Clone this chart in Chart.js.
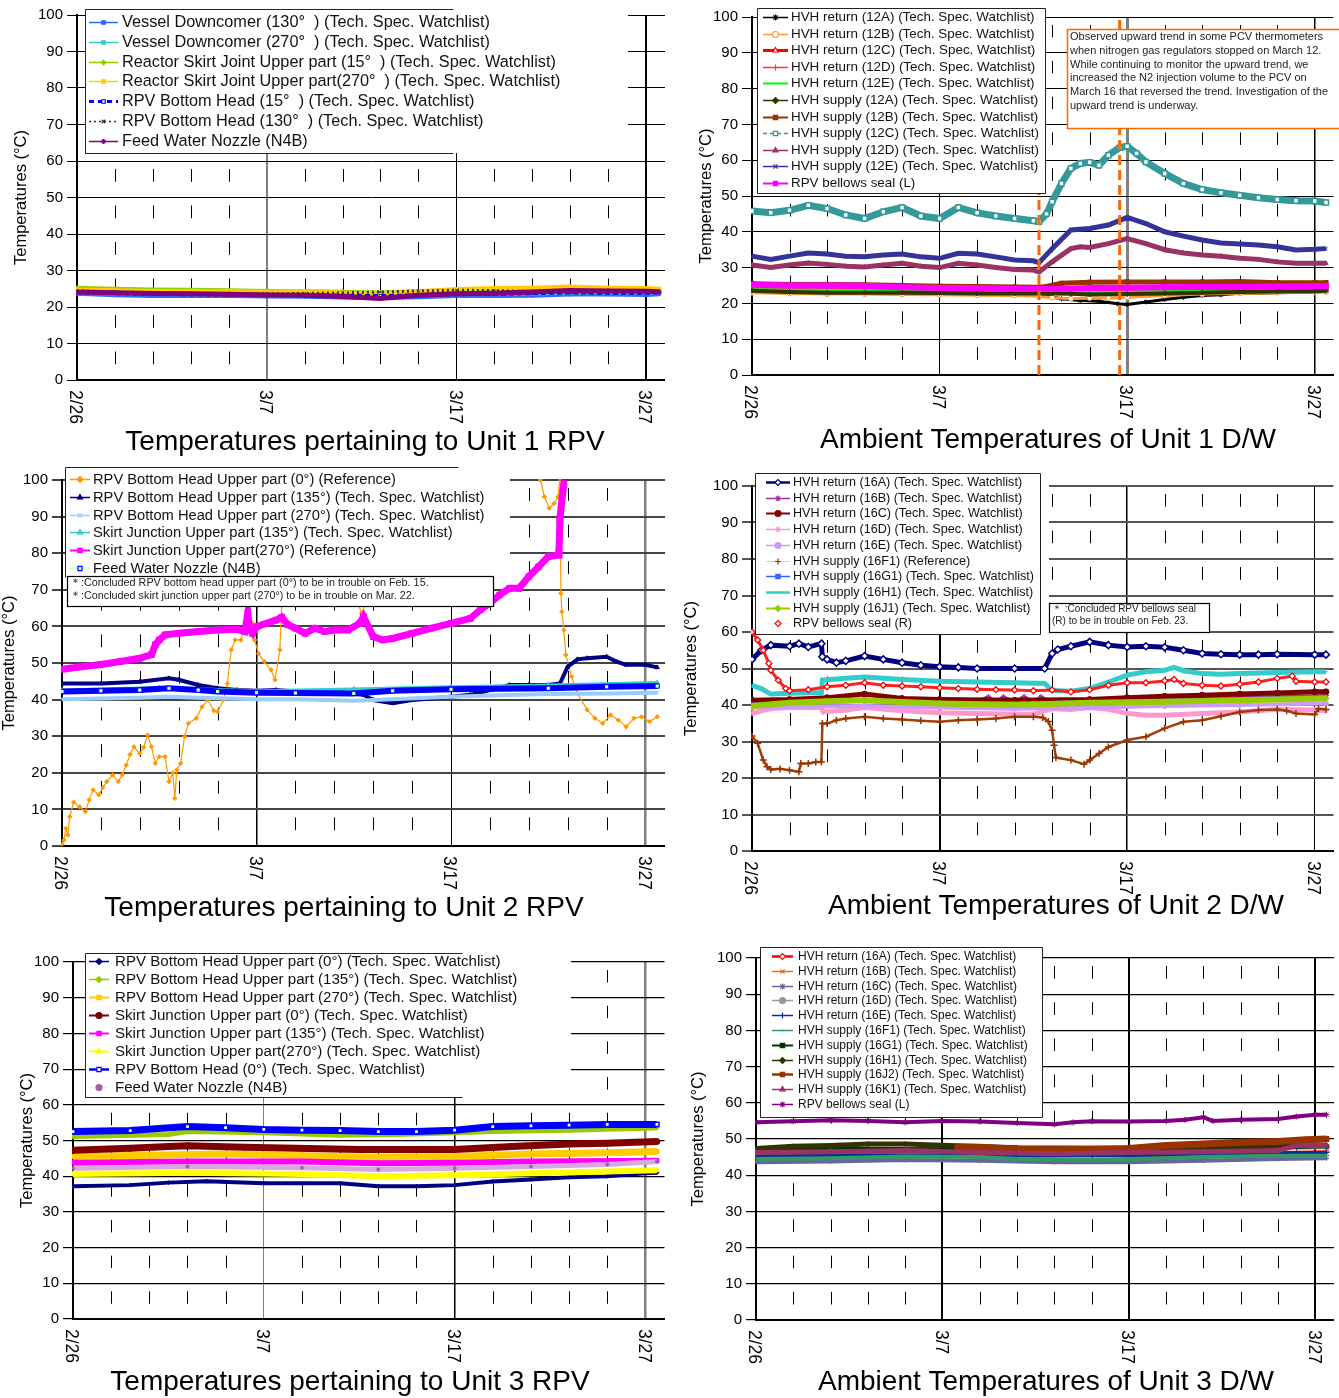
<!DOCTYPE html>
<html>
<head>
<meta charset="utf-8">
<title>PCV / RPV temperatures</title>
<script src="https://cdn.jsdelivr.net/npm/chart.js@4.4.1/dist/chart.umd.min.js"></script>
<style>
  body { margin: 0; background: #fff; width: 1339px; height: 1398px; position: relative; overflow: hidden; }
  canvas { position: absolute; }
</style>
</head>
<body>
<canvas id="p1"></canvas>
<canvas id="p2"></canvas>
<canvas id="p3"></canvas>
<canvas id="p4"></canvas>
<canvas id="p5"></canvas>
<canvas id="p6"></canvas>
<script>
// --- AXES (days since 2/26) ---
const majorDays = [0, 10, 20, 30];
const dateLabels = ['2/26', '3/7', '3/17', '3/27'];
const minorDays = [2, 4, 6, 8, 12, 14, 16, 18, 22, 24, 26, 28];

// --- UNIT 1 RPV ---
const u1RpvDays = [0, 2, 4, 6, 8, 10, 12, 14, 16, 18, 20, 22, 24, 26, 28, 30, 30.7];
const u1RpvLabels = [
  'Vessel Downcomer (130°  ) (Tech. Spec. Watchlist)',
  'Vessel Downcomer (270°  ) (Tech. Spec. Watchlist)',
  'Reactor Skirt Joint Upper part (15°  ) (Tech. Spec. Watchlist)',
  'Reactor Skirt Joint Upper part(270°  ) (Tech. Spec. Watchlist)',
  'RPV Bottom Head (15°  ) (Tech. Spec. Watchlist)',
  'RPV Bottom Head (130°  ) (Tech. Spec. Watchlist)',
  'Feed Water Nozzle (N4B)'
];
const u1Vd130 = [23.6, 23.2, 23.0, 23.0, 23.0, 22.9, 22.8, 22.6, 22.5, 22.7, 23.0, 23.0, 23.1, 23.4, 23.4, 23.3, 23.5];
const u1Vd270 = [24.0, 23.8, 23.6, 23.5, 23.4, 23.3, 23.2, 23.0, 23.0, 23.3, 23.5, 23.6, 23.7, 23.9, 24.0, 24.0, 24.0];
const u1Rsj15 = [25.3, 25.0, 24.8, 24.7, 24.6, 24.4, 24.3, 24.2, 24.0, 24.3, 24.6, 24.7, 24.9, 25.0, 24.9, 24.9, 24.9];
const u1Rsj270 = [24.8, 24.6, 24.4, 24.4, 24.3, 24.2, 24.3, 24.0, 23.8, 24.3, 24.9, 25.2, 25.3, 25.6, 25.3, 25.2, 25.0];
const u1Rbh15 = [24.0, 23.8, 23.6, 23.5, 23.4, 23.3, 23.3, 23.1, 23.0, 23.2, 23.5, 23.6, 23.8, 24.0, 23.9, 23.9, 24.0];
const u1Rbh130 = [24.4, 24.1, 23.9, 23.8, 23.7, 23.6, 23.7, 23.9, 24.1, 24.4, 24.6, 24.5, 24.2, 24.0, 24.0, 24.2, 24.3];
const u1Fwn = [24.1, 23.9, 23.7, 23.6, 23.5, 23.3, 23.2, 22.9, 22.3, 23.2, 23.6, 23.8, 24.1, 24.5, 24.4, 24.3, 24.2];

// --- UNIT 1 D/W ---
const u1DwLabels = [
  'HVH return (12A) (Tech. Spec. Watchlist)', 'HVH return (12B) (Tech. Spec. Watchlist)',
  'HVH return (12C) (Tech. Spec. Watchlist)', 'HVH return (12D) (Tech. Spec. Watchlist)',
  'HVH return (12E) (Tech. Spec. Watchlist)', 'HVH supply (12A) (Tech. Spec. Watchlist)',
  'HVH supply (12B) (Tech. Spec. Watchlist)', 'HVH supply (12C) (Tech. Spec. Watchlist)',
  'HVH supply (12D) (Tech. Spec. Watchlist)', 'HVH supply (12E) (Tech. Spec. Watchlist)',
  'RPV bellows seal (L)'
];
const u1Ret12A = [[0,23.2],[2,23],[4,22.8],[6,22.8],[8,22.7],[10,22.6],[12,22.6],[14,22.5],[15.5,22.3],[16.5,21.3],[17.5,20.8],[18.5,20.6],[19.5,19.9],[20,19.7],[21,20.4],[22,21.1],[23,21.7],[24,22.2],[25,22.4],[26,22.8],[28,23],[30,23.2],[30.6,23.3]];
const u1Ret12B = [[0,23],[2,22.8],[4,22.6],[6,22.6],[8,22.5],[10,22.4],[12,22.3],[14,22.2],[15.3,22],[16,21.6],[17,21.3],[18,21.5],[19,21.5],[20,21.7],[22,22.2],[24,22.6],[26,22.8],[28,23],[30,23.1],[30.6,23.2]];
const u1Ret12C = [[0,24.5],[5,24.3],[10,24.0],[15,23.8],[20,24.0],[25,24.3],[30.6,24.5]];
const u1Ret12D = [[0,24.3],[5,24.1],[10,23.8],[15,23.6],[20,23.8],[25,24.1],[30.6,24.3]];
const u1Ret12E = [[0,23.8],[5,23.6],[10,23.3],[15,23.1],[17,23],[20,23.2],[25,23.5],[30.6,23.8]];
const u1Sup12A = [[0,23.5],[2,23.2],[4,23],[6,23],[8,23],[10,22.9],[12,22.8],[14,22.8],[16,22.8],[17,22.7],[18,22.5],[20,22.6],[22,22.8],[24,23],[26,23.2],[28,23.3],[30,23.4],[30.6,23.5]];
const u1Sup12B = [[0,25.5],[2,25.3],[4,25.3],[6,25.2],[8,25],[10,24.8],[12,24.7],[14,24.6],[15.5,24.5],[16.5,25.6],[18,25.9],[20,26],[22,26],[24,26],[26,26.1],[28,25.8],[30,25.8],[30.6,25.8]];
const u1Sup12C = [[0,45.8],[1,45.3],[2,46],[3,47.4],[4,46.5],[5,44.7],[6,43.7],[7,45.6],[8,46.8],[9,44.4],[10,43.7],[11,46.8],[12,45.3],[13,44.4],[14,43.7],[15,43.1],[15.3,42.8],[15.7,45],[16,48.4],[16.5,53.5],[17,57.7],[17.5,59.1],[18,59.4],[18.5,58.6],[19,61.4],[19.6,63.5],[20,63.9],[20.5,61.9],[21,59.5],[22,56.3],[23,53.5],[24,51.8],[25,50.9],[26,50.2],[27,49.5],[28,49],[29,48.7],[30,48.6],[30.6,48.2]];
const u1Sup12D = [[0,30.7],[1,30],[2,30.7],[3,31.3],[4,30.9],[5,30.4],[6,30.2],[7,30.7],[8,31.2],[9,30.4],[10,30],[11,31.2],[12,30.7],[13,30],[14,29.5],[15,29.3],[15.3,28.8],[16,31.6],[17,35.3],[17.5,35.8],[18,35.6],[19,36.7],[20,38.1],[21,36.7],[22,35],[23,34.1],[24,33.5],[25,33.2],[26,32.6],[27,32.3],[28,31.6],[29,31.2],[30,31.2],[30.6,31.2]];
const u1Sup12E = [[0,33.2],[1,32.3],[2,33.2],[3,34.1],[4,33.8],[5,33.2],[6,33],[7,33.5],[8,33.8],[9,33],[10,32.6],[11,34],[12,33.8],[13,33],[14,32.1],[15,31.9],[15.3,31.4],[16,35.3],[17,40.5],[18,40.9],[19,41.9],[20,44],[21,42.3],[22,40],[23,38.8],[24,37.7],[25,36.9],[26,36.6],[27,36.3],[28,35.8],[29,34.9],[30,35.1],[30.6,35.3]];
const u1BellowsL = [[0,25.2],[2,25.0],[4,25.0],[6,24.9],[8,24.5],[10,24.3],[12,24.3],[14,24.1],[16,24.0],[18,24.3],[20,24.4],[22,24.5],[24,24.6],[26,24.6],[28,24.7],[30,24.8],[30.6,24.8]];
const u1DwEvents = [15.3, 19.6];
const u1DwNote = [
  'Observed upward trend in some PCV thermometers',
  'when nitrogen gas regulators stopped on March 12.',
  'While continuing to monitor the upward trend, we',
  'increased the N2 injection volume to the PCV on',
  'March 16 that reversed the trend. Investigation of the',
  'upward trend is underway.'
];

// --- UNIT 2 RPV ---
const u2RpvLabels = [
  'RPV Bottom Head Upper part (0°) (Reference)',
  'RPV Bottom Head Upper part (135°) (Tech. Spec. Watchlist)',
  'RPV Bottom Head Upper part (270°) (Tech. Spec. Watchlist)',
  'Skirt Junction Upper part (135°) (Tech. Spec. Watchlist)',
  'Skirt Junction Upper part(270°) (Reference)',
  'Feed Water Nozzle (N4B)'
];
const u2Bh0 = [[0,0.5],[0.1,1.6],[0.2,4.8],[0.3,3],[0.4,8],[0.6,12],[0.9,10.7],[1.2,9.4],[1.4,12.6],[1.6,15.3],[1.9,14],[2.1,16],[2.3,17.6],[2.6,19.4],[2.9,17.6],[3.1,19.5],[3.3,22.1],[3.5,25],[3.7,27.1],[4.0,25.3],[4.2,27],[4.4,30.3],[4.6,27.1],[4.8,22.6],[5.0,24.4],[5.3,24.4],[5.5,17.6],[5.7,20],[5.8,13],[5.9,20.8],[6.1,22.6],[6.3,29.9],[6.5,33.5],[6.9,34.9],[7.2,38],[7.5,39.9],[7.8,37],[8.0,36.7],[8.3,39.9],[8.5,44.4],[8.7,53.6],[8.9,56.3],[9.2,56.3],[9.4,60],[9.6,65.4],[9.8,60.8],[9.9,56.3],[10.1,52.6],[10.4,50.4],[10.75,48.1],[10.95,45.4],[11.2,53.6],[11.3,66.3],[11.5,75],[12,85],[13,80],[14,75],[15,70],[15.4,63.5],[15.6,66],[16,75],[17,90],[18,105],[20,110],[22,110],[24,105],[24.6,100],[24.8,95.4],[25.05,92.3],[25.3,93.6],[25.5,95.4],[25.6,100.5],[25.65,69],[25.7,64],[25.8,59],[25.9,52.2],[26.2,46.3],[26.5,41.7],[27.0,37.2],[27.4,34.9],[27.8,33.5],[28.2,35.8],[28.6,34.4],[29.0,32.6],[29.4,34.9],[29.8,35.3],[30.2,34],[30.6,35.3]];
const u2Bh135 = [[0,44.4],[2,44.4],[4,44.9],[5.5,45.8],[6,45.4],[7,44],[8,43.1],[9,42.6],[10,42.4],[11,42.6],[12,42.2],[14,42.2],[15.5,41.3],[16,39.9],[17,39],[18,39.9],[19,40.3],[20,40.8],[21,41.3],[22,42.6],[23,44],[24,44],[25,44],[25.6,44.4],[26,49],[26.5,51],[27,51.3],[28,51.7],[28.5,50.4],[29,49.5],[30,49.5],[30.6,48.8]];
const u2Bh270 = [[0,40.1],[2,40.3],[4,40.5],[5.5,40.8],[7,40.5],[10,40.1],[12,40.1],[15,39.7],[17,40.1],[20,40.8],[22,41.1],[25,41.5],[28,41.7],[30.6,41.9]];
const u2Sj135 = [[0,42.6],[5,43.3],[10,42.4],[15,42.9],[20,43.5],[25,44],[30.6,44.7]];
const u2Sj270 = [[0,48.3],[1,49],[2,49.6],[3,50.4],[4,51.3],[4.6,52.3],[4.8,55],[5,56.3],[5.3,57.7],[6,58.1],[7,58.6],[8,59],[9,59.2],[9.4,58.6],[9.55,63.6],[9.65,59],[9.8,58.1],[10,59.9],[11,61.7],[11.3,62.5],[11.6,60.5],[12,59.5],[12.5,58.1],[13,59.5],[13.5,58.6],[14,59],[14.7,59],[15.3,60.8],[15.5,62.7],[16,57.2],[16.5,56.3],[17,56.7],[18,58.1],[19,59.5],[20,60.8],[21,62.2],[21.5,64.5],[22,66.3],[22.5,68.6],[23,70.4],[23.5,70.4],[24,73.6],[24.5,76.3],[25,79.1],[25.5,79.5],[25.55,80.4],[25.6,89.5],[25.7,94.5],[25.8,99]];
const u2Fwn = [[0,42.2],[2,42.4],[4,42.6],[5.5,43.1],[7,42.6],[8,42.2],[10,41.9],[12,41.8],[15,41.7],[17,42.4],[20,42.8],[25,43.1],[28,43.5],[30.6,43.7]];
const u2RpvNote = [
  '＊:Concluded RPV bottom head upper part (0°) to be in trouble on Feb. 15.',
  '＊:Concluded skirt junction upper part (270°) to be in trouble on Mar. 22.'
];

// --- UNIT 2 D/W ---
const u2DwLabels = [
  'HVH return (16A) (Tech. Spec. Watchlist)', 'HVH return (16B) (Tech. Spec. Watchlist)',
  'HVH return (16C) (Tech. Spec. Watchlist)', 'HVH return (16D) (Tech. Spec. Watchlist)',
  'HVH return (16E) (Tech. Spec. Watchlist)', 'HVH supply (16F1) (Reference)',
  'HVH supply (16G1) (Tech. Spec. Watchlist)', 'HVH supply (16H1) (Tech. Spec. Watchlist)',
  'HVH supply (16J1) (Tech. Spec. Watchlist)', 'RPV bellows seal (R)'
];
const u2Ret16A = [[0,52.5],[0.5,55],[1,56.4],[2,56.1],[2.5,56.8],[3,55.9],[3.7,56.8],[3.75,53.2],[4,52.5],[4.5,51.6],[5,52.1],[6,53.4],[7,52.5],[8,51.6],[9,50.9],[10,50.5],[11,50.3],[12,50],[14,50],[15.6,50],[16,54.1],[16.3,55.2],[17,56.1],[18,57.3],[19,56.4],[20,55.9],[21,56.1],[22,55.8],[23,55],[24,54.1],[25,53.9],[26,53.8],[27,53.8],[28,53.9],[30,53.8],[30.6,53.8]];
const u2Ret16B = [[0,40.6],[4,41],[6,41.5],[8,41],[10,40.8],[12,41.2],[12.6,42.2],[13,41],[13.4,42.2],[14,41],[14.5,42.3],[15,41],[15.4,42.2],[16,41],[18,40.8],[20,41.2],[24,41.8],[28,42.3],[30.6,42.6]];
const u2Ret16C = [[0,41.3],[2,41.5],[4,42],[6,43],[8,41.8],[10,41.5],[14,41.3],[18,41.5],[20,42],[22,42.4],[24,42.7],[26,43],[28,43.3],[30,43.6],[30.6,43.6]];
const u2Ret16D = [[0,37.7],[1,39],[2,39.3],[3.7,39.3],[3.8,38.1],[5,38.6],[6,39.3],[8,38.4],[10,37.9],[12,37.7],[15,37.5],[16,39],[17,38.8],[18,39.3],[19,38.8],[20,37.7],[21,37.2],[22,37.2],[24,37.7],[26,38.1],[28,38.8],[30,38.6],[30.6,38.5]];
const u2Ret16E = [[0,39.3],[3,39.6],[6,39.7],[10,39.3],[14,39],[18,39.3],[22,39.7],[26,40],[30.6,40.4]];
const u2Sup16F1 = [[0,31.5],[0.3,29.5],[0.6,24.9],[0.8,23.1],[1,22.3],[1.5,22.5],[2,22.1],[2.5,21.7],[2.6,24],[3,24],[3.4,24.4],[3.7,24.4],[3.75,34.9],[4,34.9],[4.5,35.8],[5,36.3],[6,36.8],[7,36.3],[8,36],[9,35.7],[10,35.4],[11,35.8],[12,36],[13,36.3],[14,36.8],[15,36.8],[15.5,36.6],[15.8,35.5],[16,33.1],[16.1,29],[16.2,25.6],[17,24.9],[17.7,23.8],[18,24.9],[18.5,26.7],[19,28.5],[20,30.4],[21,31.3],[22,33.6],[23,35.4],[24,35.8],[25,36.9],[26,38.1],[27,38.6],[28,38.8],[28.5,38.4],[29,37.7],[30,37.4],[30.2,39],[30.6,38.8]];
const u2Sup16G1 = [[0,40.2],[5,41],[10,40.6],[15,40.6],[20,41],[25,41.6],[30.6,42.3]];
const u2Sup16H1 = [[0,45.4],[0.5,44.5],[1,43],[2,43.2],[3.7,43.4],[3.75,46.8],[5,47.3],[6,47.7],[7,47.3],[8,47],[10,46.5],[12,46.3],[14,46.1],[15.6,45.9],[16,44],[17,43.8],[18,44.5],[18.5,45.4],[19,46.3],[20,48.2],[21,49.1],[22,49.5],[22.5,50.3],[23,49.4],[24,48.6],[25,48.4],[26,48.6],[27,48.8],[28,48.9],[30,49.1],[30.6,49.1]];
const u2Sup16J1 = [[0,39.7],[2,40.6],[4,41],[6,41.3],[8,40.8],[10,40.4],[14,40],[18,40.6],[22,40.9],[26,41.3],[30.6,41.8]];
const u2BellowsR = [[0,60],[0.3,57.8],[0.6,55],[0.9,51.4],[1,49.5],[1.4,46.8],[1.8,44.5],[2,43.9],[3,44.2],[4,45],[5,45.4],[6,46.1],[7,45.4],[8,45.2],[9,45],[10,44.7],[11,44.5],[12,44.3],[13,44.2],[14,44.1],[15,43.9],[16,44.1],[17,43.6],[18,44.2],[19,45.4],[20,46.1],[21,46.1],[22,46.6],[22.5,47],[23,45.9],[24,45.4],[25,45.2],[26,45.7],[27,46.3],[28,47.3],[28.8,47.9],[29,46.5],[30,46.3],[30.6,46.3]];
const u2DwNote = ['＊ :Concluded RPV bellows seal', '(R) to be in trouble on Feb. 23.'];

// --- UNIT 3 RPV ---
const u3RpvLabels = [
  'RPV Bottom Head Upper part (0°) (Tech. Spec. Watchlist)',
  'RPV Bottom Head Upper part (135°) (Tech. Spec. Watchlist)',
  'RPV Bottom Head Upper part (270°) (Tech. Spec. Watchlist)',
  'Skirt Junction Upper part (0°) (Tech. Spec. Watchlist)',
  'Skirt Junction Upper part (135°) (Tech. Spec. Watchlist)',
  'Skirt Junction Upper part(270°) (Tech. Spec. Watchlist)',
  'RPV Bottom Head (0°) (Tech. Spec. Watchlist)',
  'Feed Water Nozzle (N4B)'
];
const u3Bh0 = [[0,37.2],[3,37.5],[5,38.2],[7,38.6],[10,38],[14,38],[16,37.2],[18,37.2],[20,37.5],[22,38.5],[24,39.1],[26,39.7],[28,40],[30,40.8],[30.6,41]];
const u3Bh135 = [[0,51.1],[2,51.3],[5,51.7],[6,52.5],[10,52.2],[14,51.5],[17,51.7],[20,52.2],[22,52.5],[26,52.9],[30,53.4],[30.6,53.6]];
const u3Bh270 = [[0,45.5],[4,45.9],[8,46.2],[12,45.7],[16,45.3],[20,45.5],[24,46.2],[28,46.6],[30.6,46.9]];
const u3Sj0 = [[0,47.3],[3,47.8],[5,48.3],[6,48.5],[9,48.1],[15,47.5],[20,47.5],[23,48.3],[26,49],[28,49.2],[30.6,49.7]];
const u3Sj135 = [[0,43.8],[6,44.1],[12,44.1],[16,43.6],[20,43.8],[24,44.1],[30.6,44.3]];
const u3Sj270 = [[0,40.6],[6,41],[12,40.6],[16,40],[20,40.3],[24,40.8],[28,41.3],[30.6,41.7]];
const u3Rbh0 = [[0,52.5],[3,52.8],[6,53.9],[8,53.6],[10,53.1],[12,52.9],[14,52.8],[16,52.5],[18,52.5],[20,52.9],[22,53.9],[24,54.1],[26,54.3],[28,54.5],[30.6,54.5]];
const u3Fwn = [[0,42.2],[6,42.7],[12,42.4],[16,41.9],[20,42.2],[24,42.7],[28,43.3],[30.6,44.1]];

// --- UNIT 3 D/W ---
const u3DwLabels = [
  'HVH return (16A) (Tech. Spec. Watchlist)', 'HVH return (16B) (Tech. Spec. Watchlist)',
  'HVH return (16C) (Tech. Spec. Watchlist)', 'HVH return (16D) (Tech. Spec. Watchlist)',
  'HVH return (16E) (Tech. Spec. Watchlist)', 'HVH supply (16F1) (Tech. Spec. Watchlist)',
  'HVH supply (16G1) (Tech. Spec. Watchlist)', 'HVH supply (16H1) (Tech. Spec. Watchlist)',
  'HVH supply (16J2) (Tech. Spec. Watchlist)', 'HVH supply (16K1) (Tech. Spec. Watchlist)',
  'RPV bellows seal (L)'
];
const u3Ret16A = [[0,45.6],[5,45.8],[10,46],[15,45.6],[20,45.6],[25,46],[30.6,46.5]];
const u3Ret16B = [[0,45.4],[5,45.6],[10,45.8],[15,45.4],[20,45.5],[25,45.8],[30.6,46.2]];
const u3Ret16C = [[0,43.6],[4,43.8],[8,44.2],[12,44],[16,43.6],[20,43.6],[24,44],[28,44.5],[30.6,44.7]];
const u3Ret16D = [[0,46.8],[5,47],[10,47.2],[15,47],[20,47.1],[25,47.4],[30.6,47.7]];
const u3Ret16E = [[0,45.3],[5,45.5],[10,45.6],[15,45.3],[20,45.4],[25,45.7],[29,46.3],[30.6,46.3]];
const u3Sup16F1 = [[0,44.5],[4,44.7],[8,45.2],[12,45],[14,44.5],[18,44.3],[20,44.5],[22,44.7],[24,45],[28,45.4],[30.6,45.4]];
const u3Sup16G1 = [[0,47.1],[5,47.3],[10,47.2],[15,46.9],[20,46.8],[25,47.3],[30.6,48]];
const u3Sup16H1 = [[0,47.4],[2,48],[4,48.2],[6,48.6],[8,48.6],[10,48.3],[14,47.6],[20,47.4],[24,47.8],[28,48.2],[30.6,48.3]];
const u3Sup16J2 = [[10.8,47.7],[12,47.7],[14,47.2],[16,47.1],[18,47.2],[20,47.4],[22,48.2],[24,48.6],[26,49.1],[28,49.3],[29.5,49.8],[30.6,50]];
const u3Sup16K1 = [[0,46.3],[4,46.5],[8,46.8],[12,46.3],[16,45.9],[20,46.3],[24,46.5],[28,46.8],[29,48.2],[30.6,48.2]];
const u3BellowsL = [[0,54.6],[2,54.9],[4,55.2],[6,55],[8,54.6],[10,55],[12,54.8],[14,54.4],[16,54.1],[17,54.6],[18,54.9],[20,54.8],[22,55],[23,55.3],[24,56],[24.5,55],[26,55.3],[28,55.5],[29,56.2],[30,56.7],[30.6,56.7]];

// --- HELPERS ---
const FONT = "'Liberation Sans', Arial, sans-serif";
Chart.defaults.font.family = FONT;
Chart.defaults.color = '#000';

const zip = (xs, ys) => xs.map((x, i) => [x, ys[i]]);

const mk = (label, pts, s, i) => ({
  label,
  data: pts.map(([x, y]) => ({ x, y })),
  borderColor: s.line || s.c,
  borderWidth: s.w ?? 3,
  borderDash: s.dash || [],
  pointStyle: s.m || 'rect',
  pointRadius: s.r ?? 2.5,
  pointBorderColor: s.pc || s.c,
  pointBackgroundColor: s.pf || s.pc || s.c,
  pointBorderWidth: s.pbw ?? 1,
  legLine: s.legLine || s.c,
  legW: s.legW ?? 1.5,
  legDash: s.legDash || s.dash || [],
  legMarkFill: s.legFill || s.pf || s.pc || s.c,
  legMarkLine: s.pc || s.c,
  tension: 0,
  order: -i,
  clip: 1
});

const build = (labels, series) => series.map(([pts, s], i) => mk(labels[i], pts, s, i));

// --- DATASETS ---
const u1RpvSets = build(u1RpvLabels, [
  [zip(u1RpvDays, u1Vd130), { c: '#3366FF', m: 'rect', w: 4, r: 1.8 }],
  [zip(u1RpvDays, u1Vd270), { c: '#33CCCC', m: 'rect', w: 4, r: 1.8 }],
  [zip(u1RpvDays, u1Rsj15), { c: '#99CC00', m: 'rectRot', w: 4, r: 2 }],
  [zip(u1RpvDays, u1Rsj270), { c: '#FFCC00', m: 'rect', w: 4, r: 2 }],
  [zip(u1RpvDays, u1Rbh15), { c: '#0000FF', m: 'rect', pf: '#fff', w: 4, r: 2, dash: [5, 3], legW: 3, legDash: [5, 4] }],
  [zip(u1RpvDays, u1Rbh130), { c: '#333333', m: 'crossRot', w: 3, r: 2, dash: [2, 3], legDash: [2, 3] }],
  [zip(u1RpvDays, u1Fwn), { c: '#800080', m: 'star', w: 5, r: 2.5 }]
]);

const u1DwSets = build(u1DwLabels, [
  [u1Ret12A, { c: '#000000', m: 'star', w: 3, r: 2.5 }],
  [u1Ret12B, { c: '#FF9933', m: 'circle', pf: '#fff', w: 3, r: 2.5 }],
  [u1Ret12C, { c: '#FF0000', m: 'triangle', pf: '#fff', w: 3, r: 2.5, legW: 3 }],
  [u1Ret12D, { c: '#FF3333', m: 'cross', w: 2, r: 3 }],
  [u1Ret12E, { c: '#00FF00', m: 'line', w: 3, r: 3, legW: 2 }],
  [u1Sup12A, { c: '#333300', m: 'rectRot', w: 4, r: 2.5 }],
  [u1Sup12B, { c: '#993300', m: 'rect', w: 5, r: 3, legW: 2 }],
  [u1Sup12C, { c: '#339999', m: 'rect', pf: '#fff', w: 7, r: 3.5, pbw: 1.5, legDash: [4, 3] }],
  [u1Sup12D, { c: '#993366', m: 'triangle', w: 5, r: 2.5 }],
  [u1Sup12E, { c: '#333399', m: 'crossRot', w: 5, r: 2.5 }],
  [u1BellowsL, { c: '#FF00FF', m: 'rect', w: 6, r: 3.5, legW: 2 }]
]);
u1DwEvents.forEach(d => u1DwSets.push({
  label: '', noLegend: true,
  data: [{ x: d, y: 0 }, { x: d, y: 100 }],
  borderColor: '#FF6600', borderWidth: 3, borderDash: [10, 5],
  pointRadius: 0, order: -100, clip: 0
}));

const u2RpvSets = build(u2RpvLabels, [
  [u2Bh0, { c: '#FF9900', m: 'rectRot', w: 1.2, r: 2.2 }],
  [u2Bh135, { c: '#000080', m: 'triangle', w: 4, r: 2.5 }],
  [u2Bh270, { c: '#99CCFF', m: 'crossRot', w: 4, r: 2.5 }],
  [u2Sj135, { c: '#33CCCC', m: 'triangle', w: 3, r: 2.5 }],
  [u2Sj270, { c: '#FF00FF', m: 'rect', w: 7, r: 4, legW: 2 }],
  [u2Fwn, { c: '#0000FF', line: '#0000FF', pc: '#0000FF', pf: '#CCFFCC', m: 'rect', w: 6, r: 3, legLine: '#CCFFCC', legW: 2 }]
]);

const u2DwSets = build(u2DwLabels, [
  [u2Ret16A, { c: '#000080', m: 'rectRot', pf: '#fff', w: 5, r: 3.5, pbw: 1.5, legW: 2.5 }],
  [u2Ret16B, { c: '#993399', m: 'star', w: 3, r: 3 }],
  [u2Ret16C, { c: '#800000', m: 'circle', w: 5, r: 3, legW: 2 }],
  [u2Ret16D, { c: '#FF99CC', m: 'star', w: 5, r: 3 }],
  [u2Ret16E, { c: '#CC99FF', m: 'circle', w: 4, r: 2.5 }],
  [u2Sup16F1, { c: '#993300', line: '#A0400A', m: 'cross', w: 2.5, r: 3.5, pbw: 1.5, legLine: '#FFCC99', legW: 1 }],
  [u2Sup16G1, { c: '#3366FF', m: 'rect', w: 3, r: 2 }],
  [u2Sup16H1, { c: '#33CCCC', m: 'line', w: 5, r: 2, legW: 2.5 }],
  [u2Sup16J1, { c: '#99CC00', m: 'rectRot', w: 6, r: 3, legW: 2 }],
  [u2BellowsR, { c: '#FF0000', line: '#FF2020', pc: '#FF0000', pf: '#fff', m: 'rectRot', w: 3, r: 3, pbw: 1.3, legLine: '#CCFFFF' }]
]);

const u3RpvSets = build(u3RpvLabels, [
  [u3Bh0, { c: '#000080', m: 'rectRot', w: 4, r: 2 }],
  [u3Bh135, { c: '#99CC00', m: 'rectRot', w: 5, r: 2.5 }],
  [u3Bh270, { c: '#FFCC00', m: 'rect', w: 7, r: 3, legW: 2 }],
  [u3Sj0, { c: '#800000', m: 'circle', w: 7, r: 3, legW: 2 }],
  [u3Sj135, { c: '#FF00FF', m: 'rect', w: 6, r: 3, legW: 2 }],
  [u3Sj270, { c: '#FFFF00', m: 'triangle', w: 6, r: 3, legW: 2 }],
  [u3Rbh0, { c: '#0000FF', m: 'rect', pf: '#fff', w: 7, r: 3, pbw: 1.5, legW: 2.5 }],
  [u3Fwn, { c: '#CC88CC', line: '#D8A8E0', pc: '#A060A0', m: 'circle', w: 5, r: 1.5, legLine: '#CCFFFF' }]
]);

const u3DwSets = build(u3DwLabels, [
  [u3Ret16A, { c: '#FF0000', m: 'rectRot', pf: '#fff', w: 3, r: 2.5, legW: 2.5 }],
  [u3Ret16B, { c: '#FF6600', m: 'crossRot', w: 3, r: 3 }],
  [u3Ret16C, { c: '#666699', m: 'star', w: 4, r: 2.5 }],
  [u3Ret16D, { c: '#999999', m: 'circle', w: 4, r: 3 }],
  [u3Ret16E, { c: '#003399', m: 'cross', w: 3, r: 3 }],
  [u3Sup16F1, { c: '#339966', m: 'line', w: 4, r: 2.5 }],
  [u3Sup16G1, { c: '#003300', m: 'rect', w: 4, r: 2.5, legW: 2 }],
  [u3Sup16H1, { c: '#333300', m: 'rectRot', w: 5, r: 2.5 }],
  [u3Sup16J2, { c: '#993300', m: 'rect', w: 7, r: 3.5, legW: 2.5 }],
  [u3Sup16K1, { c: '#993366', m: 'triangle', w: 5, r: 3 }],
  [u3BellowsL, { c: '#800080', m: 'star', w: 4, r: 3 }]
]);

// --- PANEL LAYOUT (cell: page box, area: plot box in cell coords) ---
const panels = [
  { id: 'p1', sets: u1RpvSets, cell: [0, 0, 670, 465], area: [77, 15, 670, 380],
    title: 'Temperatures pertaining to Unit 1 RPV', titleX: 365, titleY: 442, yTitlePad: 12,
    hGrid: ['#000', 1], vGrid: { 10: ['#808080', 2], 20: ['#000', 1], 30: ['#000', 2] },
    legend: { fill: [85, 9, 543, 144], box: [85, 9, 368, 144], sides: 'tlb', row0: 22, rowH: 19.8, sx: [89, 118], tx: 122, font: 16.3, mr: 2.5 } },
  { id: 'p2', sets: u1DwSets, cell: [670, 0, 669, 465], area: [82, 17, 669, 375],
    title: 'Ambient Temperatures of Unit 1 D/W', titleX: 378, titleY: 440, yTitlePad: 27,
    hGrid: ['#000', 1], vGrid: { 10: ['#000', 1], 20: ['#808080', 3], 30: ['#000', 1.5] },
    legend: { fill: [87, 8, 288, 185], box: [87, 8, 288, 185], sides: 'tlbr', row0: 17, rowH: 16.6, sx: [93, 118], tx: 121, font: 13.4, mr: 3 },
    notes: [{ box: [397, 29, 285, 99], color: '#FF6600', lw: 1.5, lines: u1DwNote, tx: 400, y0: 37, lh: 13.8, font: 11 }] },
  { id: 'p3', sets: u2RpvSets, cell: [0, 465, 670, 465], area: [62, 15, 667, 381],
    title: 'Temperatures pertaining to Unit 2 RPV', titleX: 344, titleY: 443, yTitlePad: 0,
    hGrid: ['#444', 2], vGrid: { 10: ['#000', 1.5], 20: ['#000', 1], 30: ['#808080', 2.5] },
    legend: { fill: [65, 2, 445, 110], box: [65, 2, 393, 110], sides: 'tl', row0: 14, rowH: 17.8, sx: [70, 90], tx: 93, font: 14.7, mr: 3 },
    notes: [{ box: [67, 111, 426, 30], color: '#000', lw: 1.2, lines: u2RpvNote, tx: 70, y0: 118, lh: 13, font: 10.8 }] },
  { id: 'p4', sets: u2DwSets, cell: [670, 465, 669, 465], area: [82, 21, 669, 386],
    title: 'Ambient Temperatures of Unit 2 D/W', titleX: 386, titleY: 441, yTitlePad: 12,
    hGrid: ['#555', 2], vGrid: { 10: ['#000', 2], 20: ['#000', 1.5], 30: ['#000', 1] },
    legend: { fill: [85, 8, 294, 161], box: [85, 8, 285, 161], sides: 'tlbr', row0: 17, rowH: 15.7, sx: [96, 120], tx: 123, font: 12.6, mr: 3 },
    notes: [{ box: [379, 138, 160, 29], color: '#000', lw: 1.2, lines: u2DwNote, tx: 382, y0: 144, lh: 12.5, font: 10 }] },
  { id: 'p5', sets: u3RpvSets, cell: [0, 930, 670, 468], area: [73, 32, 668, 389],
    title: 'Temperatures pertaining to Unit 3 RPV', titleX: 350, titleY: 452, yTitlePad: 18,
    hGrid: ['#000', 1.2], vGrid: { 10: ['#808080', 1], 20: ['#000', 1.5], 30: ['#808080', 2.5] },
    legend: { fill: [85, 23, 486, 144], box: [85, 23, 377, 144], sides: 'tlb', row0: 31, rowH: 18, sx: [89, 109], tx: 115, font: 15.1, mr: 3 } },
  { id: 'p6', sets: u3DwSets, cell: [670, 930, 669, 468], area: [86, 28, 669, 390],
    title: 'Ambient Temperatures of Unit 3 D/W', titleX: 376, titleY: 452, yTitlePad: 19,
    hGrid: ['#000', 1.2], vGrid: { 10: ['#000', 2], 20: ['#000', 2], 30: ['#000', 2] },
    legend: { fill: [90, 17, 282, 170], box: [90, 17, 282, 170], sides: 'tlbr', row0: 26, rowH: 14.8, sx: [102, 123], tx: 128, font: 12, mr: 3 } }
];
const panelById = {};
panels.forEach(p => { panelById[p.id] = p; });

function strokeSides(ctx, [x, y, w, h], sides) {
  ctx.beginPath();
  if (sides.includes('t')) { ctx.moveTo(x, y); ctx.lineTo(x + w, y); }
  if (sides.includes('b')) { ctx.moveTo(x, y + h); ctx.lineTo(x + w, y + h); }
  if (sides.includes('l')) { ctx.moveTo(x, y); ctx.lineTo(x, y + h); }
  if (sides.includes('r')) { ctx.moveTo(x + w, y); ctx.lineTo(x + w, y + h); }
  ctx.stroke();
}

// --- PLUGIN: dashed day grid, boxed legend, notes, rotated dates, title ---
const panelDeco = {
  id: 'panelDeco',
  beforeDatasetsDraw(chart) {
    const { ctx, chartArea: a, scales: { x, y } } = chart;
    const period = y.getPixelForValue(0) - y.getPixelForValue(10);
    ctx.save();
    ctx.strokeStyle = '#000';
    ctx.lineWidth = 1;
    ctx.setLineDash([period * 0.35, period * 0.65]);
    ctx.lineDashOffset = period - 8;
    minorDays.forEach(d => {
      const px = Math.round(x.getPixelForValue(d)) + 0.5;
      ctx.beginPath();
      ctx.moveTo(px, a.top);
      ctx.lineTo(px, a.bottom);
      ctx.stroke();
    });
    ctx.restore();
  },
  afterDatasetsDraw(chart) {
    const p = panelById[chart.canvas.id];
    const { ctx, chartArea: a, scales: { x } } = chart;
    const L = p.legend;
    ctx.save();

    // legend box
    ctx.fillStyle = '#fff';
    ctx.fillRect(...L.fill);
    ctx.strokeStyle = '#222';
    ctx.lineWidth = 1;
    strokeSides(ctx, L.box.map((v, i) => i < 2 ? v + 0.5 : v), L.sides);

    ctx.font = `${L.font}px ${FONT}`;
    ctx.textBaseline = 'middle';
    ctx.textAlign = 'left';
    chart.data.datasets.filter(ds => !ds.noLegend).forEach((ds, i) => {
      const cy = Math.round(L.row0 + i * L.rowH) + 0.5;
      ctx.strokeStyle = ds.legLine;
      ctx.lineWidth = ds.legW;
      ctx.setLineDash(ds.legDash);
      ctx.beginPath();
      ctx.moveTo(L.sx[0], cy);
      ctx.lineTo(L.sx[1], cy);
      ctx.stroke();
      ctx.setLineDash([]);
      ctx.fillStyle = ds.legMarkFill;
      ctx.strokeStyle = ds.legMarkLine;
      ctx.lineWidth = 1.2;
      Chart.helpers.drawPoint(ctx, { pointStyle: ds.pointStyle, radius: L.mr, rotation: 0, borderWidth: 1.2 },
        (L.sx[0] + L.sx[1]) / 2, cy);
      ctx.fillStyle = '#111';
      ctx.fillText(ds.label, L.tx, cy);
    });

    // note boxes
    (p.notes || []).forEach(n => {
      ctx.fillStyle = '#fff';
      ctx.fillRect(...n.box);
      ctx.strokeStyle = n.color;
      ctx.lineWidth = n.lw;
      ctx.strokeRect(n.box[0] + 0.5, n.box[1] + 0.5, n.box[2], n.box[3]);
      ctx.fillStyle = '#222';
      ctx.font = `${n.font}px ${FONT}`;
      n.lines.forEach((t, i) => ctx.fillText(t, n.tx, n.y0 + i * n.lh));
    });

    // rotated date labels
    ctx.fillStyle = '#000';
    ctx.font = `17.5px ${FONT}`;
    majorDays.forEach((d, i) => {
      ctx.save();
      ctx.translate(x.getPixelForValue(d) - 2, a.bottom + 10);
      ctx.rotate(Math.PI / 2);
      ctx.textAlign = 'left';
      ctx.textBaseline = 'middle';
      ctx.fillText(dateLabels[i], 0, 0);
      ctx.restore();
    });

    // chart title
    ctx.font = `28px ${FONT}`;
    ctx.textAlign = 'center';
    ctx.textBaseline = 'middle';
    ctx.fillText(p.title, p.titleX, p.titleY);
    ctx.restore();
  }
};

// --- CHARTS ---
panels.forEach(p => {
  const cv = document.getElementById(p.id);
  const [cx, cy, cw, ch] = p.cell;
  cv.width = cw;
  cv.height = ch;
  cv.style.left = cx + 'px';
  cv.style.top = cy + 'px';
  cv.style.width = cw + 'px';
  cv.style.height = ch + 'px';

  new Chart(cv, {
    type: 'line',
    data: { datasets: p.sets },
    options: {
      responsive: false,
      animation: false,
      devicePixelRatio: 1,
      events: [],
      layout: { padding: { top: p.area[1], right: cw - p.area[2], bottom: 0, left: 0 } },
      plugins: { legend: { display: false }, tooltip: { enabled: false }, title: { display: false } },
      scales: {
        x: {
          type: 'linear', min: 0, max: 31,
          afterFit: s => { s.height = ch - p.area[3]; },
          ticks: { display: false, stepSize: 10, includeBounds: false },
          grid: {
            drawTicks: false,
            color: c => (c.tick && p.vGrid[c.tick.value]) ? p.vGrid[c.tick.value][0] : 'rgba(0,0,0,0)',
            lineWidth: c => (c.tick && p.vGrid[c.tick.value]) ? p.vGrid[c.tick.value][1] : 0
          },
          border: { color: '#000', width: 2 }
        },
        y: {
          min: 0, max: 100,
          afterFit: s => { s.width = p.area[0]; },
          ticks: { stepSize: 10, color: '#000', font: { size: 15 }, padding: 4 },
          grid: { color: p.hGrid[0], lineWidth: p.hGrid[1], tickLength: 10 },
          border: { color: '#000', width: 2 },
          title: { display: true, text: 'Temperatures (°C)', color: '#000', font: { size: 16.5 },
                   padding: { top: p.yTitlePad, bottom: 0 } }
        }
      }
    },
    plugins: [panelDeco]
  });
});
</script>
</body>
</html>
